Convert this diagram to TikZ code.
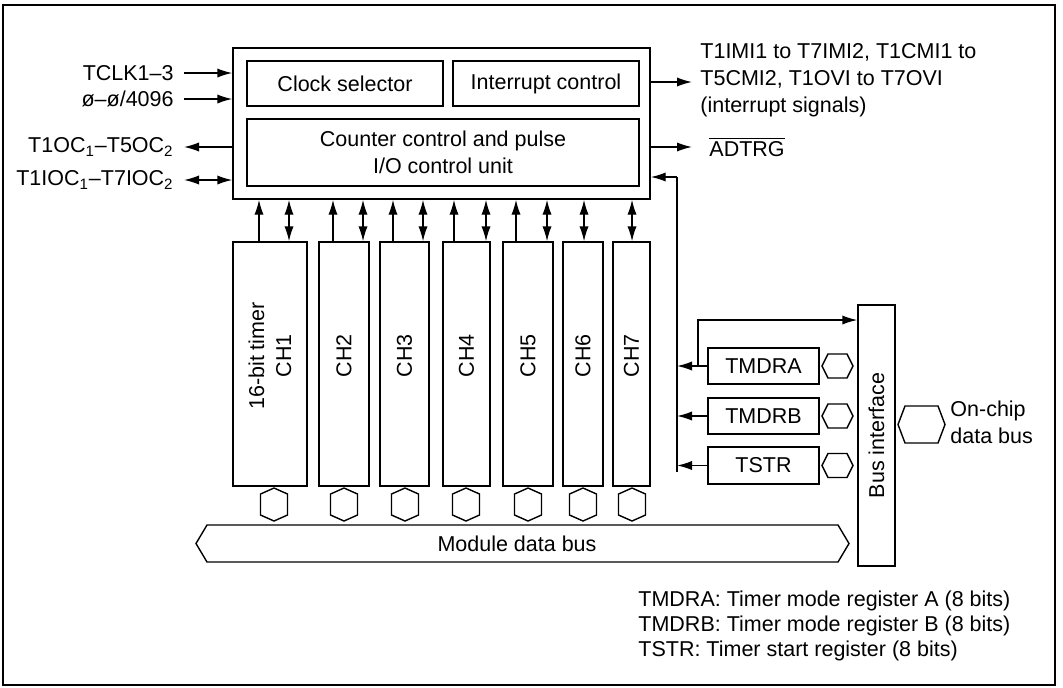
\documentclass[tikz,border=0pt]{standalone}
\usepackage{fontspec}
\setmainfont{Liberation Sans}
\usetikzlibrary{arrows.meta,fit,calc}
\begin{document}
\begin{tikzpicture}[x=0.5pt,y=-0.5pt,
  every node/.style={font=\fontsize{10.75}{13.5}\selectfont},
  blk/.style={draw,line width=0.7pt,inner sep=0pt},
  ln/.style={line width=0.7pt},
  tip/.style={-{Latex[length=7.5pt,width=4.6pt]}},
  dtip/.style={{Latex[length=7.5pt,width=4.6pt]}-{Latex[length=7.5pt,width=4.6pt]}},
  sig/.style={inner sep=0pt,inner xsep=5pt},
  vtext/.style={rotate=90,align=center}]
\useasboundingbox (0,0) rectangle (1063,687);
\draw[line width=0.6pt] (3,5) rectangle (1055,685);

% main block
\node[blk,fit={(233,48)(650,199)}] (main) {};
\node[blk,fit={(247,61)(443,106)}] (clk) {};
\node at (clk.center) {Clock selector};
\node[blk,fit={(453,61)(639,106)}] (intc) {};
\node at (intc.center) {Interrupt control};
\node[blk,fit={(247,119)(639,186)}] (cnt) {};
\node[align=center] at (cnt.center) {Counter control and pulse\\I/O control unit};

% left signals
\node[sig,anchor=east] (tclk) at (184,73) {TCLK1–3};
\node[sig,anchor=east] (phi) at (184,99) {ø–ø/4096};
\node[sig,anchor=east] (toc) at (184,147) {T1OC\textsubscript{1}–T5OC\textsubscript{2}};
\node[sig,anchor=east] (tioc) at (184,180) {T1IOC\textsubscript{1}–T7IOC\textsubscript{2}};
\draw[ln,tip] (tclk.east) -- (main.west |- tclk.east);
\draw[ln,tip] (phi.east) -- (main.west |- phi.east);
\draw[ln,tip] (main.west |- toc.east) -- (toc.east);
\draw[ln,dtip] (main.west |- tioc.east) -- (tioc.east);

% right signals
\node[anchor=west,align=left,inner sep=0pt,inner xsep=4pt] (ints) at (692,80)
  {T1IMI1 to T7IMI2, T1CMI1 to\\T5CMI2, T1OVI to T7OVI\\(interrupt signals)};
\node[anchor=west,inner sep=0pt,inner xsep=8.5pt] (adtrg) at (692,147) {$\overline{\mbox{ADTRG}}$};
\draw[ln,tip] (main.east |- 0,82) coordinate (iq) -- (iq -| ints.west);
\draw[ln,tip] (main.east |- adtrg.west) -- (adtrg.west);

% channels
\node[blk,fit={(233,242)(307,486)}] (ch1) {};
\node[blk,fit={(319,242)(369,486)}] (ch2) {};
\node[blk,fit={(380,242)(429,486)}] (ch3) {};
\node[blk,fit={(443,242)(490,486)}] (ch4) {};
\node[blk,fit={(503,242)(553,486)}] (ch5) {};
\node[blk,fit={(563,242)(603,486)}] (ch6) {};
\node[blk,fit={(613,242)(650,486)}] (ch7) {};
\node[vtext] at ($(ch1.center)+(0,-8)$) {16-bit timer\\CH1};
\foreach \c/\t in {ch2/CH2,ch3/CH3,ch4/CH4,ch5/CH5,ch6/CH6,ch7/CH7}
  \node[vtext] at ($(\c.center)+(0,-8)$) {\t};

% channel arrows
\foreach \x/\c in {259/ch1,333/ch2,393/ch3,454/ch4,516/ch5}
  \draw[ln,tip] (\c.north -| \x,0) -- (main.south -| \x,0);
\foreach \x/\c in {289/ch1,363/ch2,423/ch3,486/ch4,547/ch5,584/ch6,632/ch7}
  \draw[ln,dtip] (\c.north -| \x,0) -- (main.south -| \x,0);

% vertical hexagons under channels
\foreach \x in {274,344,405,466,528,583,632}
  \draw[ln] (\x,488) -- ++(13.5,6) -- ++(0,21) -- (\x,521) -- ++(-13.5,-6) -- ++(0,-21) -- cycle;

% module data bus
\draw[ln] (207,525) -- (838,525) -- (849,543.5) -- (838,562) -- (207,562) -- (196,543.5) -- cycle;
\node (mdb) at (517,544) {Module data bus};

% bus interface
\node[blk,fit={(858,305)(895,566)}] (bi) {};
\node[rotate=90] at (bi.center) {Bus interface};

% registers
\node[blk,fit={(708,348)(819,384)}] (tmdra) {};
\node at (tmdra.center) {TMDRA};
\node[blk,fit={(708,398)(819,434)}] (tmdrb) {};
\node at (tmdrb.center) {TMDRB};
\node[blk,fit={(708,447)(819,484)}] (tstr) {};
\node at (tstr.center) {TSTR};

% register hexagons
\foreach \y in {366,416,465.5}
  \draw[ln] (822,\y) -- ++(6,-12) -- ++(19,0) -- ++(6,12) -- ++(-6,12) -- ++(-19,0) -- cycle;

% on-chip data bus
\draw[ln] (898,424.5) -- (905,406) -- (938,406) -- (945,424.5) -- (938,443) -- (905,443) -- cycle;
\node[anchor=west,align=left,inner sep=0pt] (ocdb) at (950,422) {On-chip\\data bus};

% internal bus line
\coordinate (bt) at (677,177);
\coordinate (bb) at (677,472);
\draw[line width=1pt] (bb) -- (bt);
\draw[ln,tip] (bt) -- (main.east |- bt);
\draw[ln,tip] (tmdra.west) -- (tmdra.west -| bt);
\draw[ln,tip] (tmdrb.west) -- (tmdrb.west -| bt);
\draw[ln,tip] (tstr.west) -- (tstr.west -| bt);
\coordinate (br) at (698,366);
\draw[ln,tip] (br) -- (698,320) -- (bi.west |- 0,320);

% legend
\node[anchor=north west,align=left,inner sep=0pt,font=\fontsize{10.75}{12.3}\selectfont] (leg) at (638,591)
  {TMDRA: Timer mode register A (8 bits)\\TMDRB: Timer mode register B (8 bits)\\TSTR: Timer start register (8 bits)};
\end{tikzpicture}
\end{document}
